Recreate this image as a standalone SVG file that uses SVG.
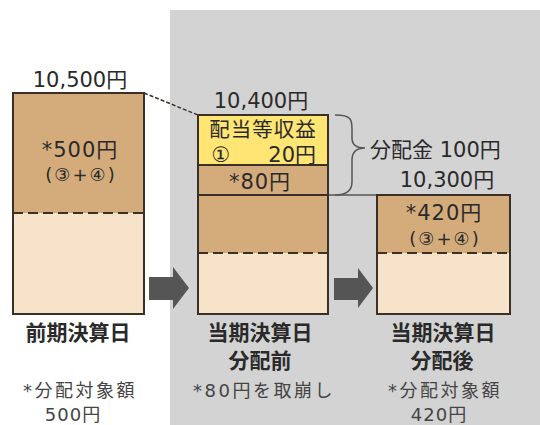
<svg xmlns="http://www.w3.org/2000/svg" width="540" height="425" viewBox="0 0 540 425">
<style>
text{font-family:"DejaVu Sans","Noto Sans CJK JP",sans-serif;fill:#2a2a2a;text-anchor:middle}
.n{font-size:21px}
.c{font-size:18px;letter-spacing:2px}
.b{font-family:"Noto Sans CJK JP",sans-serif;font-weight:bold;font-size:21px}
.s{font-size:18px;fill:#444;letter-spacing:2.5px}
.tan{fill:#D4AC7C}
.lt{fill:#F7E3C9}
.yl{fill:#FFE574}
.out{fill:none;stroke:#3b3028;stroke-width:2}
.sep{stroke:#3b3028;stroke-width:2}
.dash{stroke:#3b3028;stroke-width:2;stroke-dasharray:10 5;fill:none}
.arrow{fill:#555}
</style>
<rect x="170" y="10" width="370" height="415" fill="#D3D3D3"/>
<g id="connectors">
<line x1="144" y1="93" x2="198" y2="115" stroke="#3b3028" stroke-width="1.5" stroke-dasharray="4 2"/>
<line x1="328" y1="195" x2="377" y2="195" stroke="#555" stroke-width="1.3"/>
<path d="M335,115 C352,115 352,120 352,130 V138 C352,145 356,148 365,148 C356,148 352,152 352,160 V182 C352,192 345,195 335,195" fill="none" stroke="#555" stroke-width="1.5"/>
<path class="arrow" d="M149,277 H173 V267 L189,288 L173,309 V300 H149 Z"/>
<path class="arrow" d="M334,278 H358 V268 L373,288 L358,308 V300 H334 Z"/>
</g>
<g id="prev">
<rect class="tan" x="13" y="93" width="131" height="120"/>
<rect class="lt" x="13" y="213" width="131" height="101"/>
<line class="dash" x1="13" y1="213" x2="144" y2="213"/>
<rect class="out" x="13" y="93" width="131" height="221"/>
<text class="n" x="80" y="87">10,500円</text>
<text class="n" x="80" y="157" style="letter-spacing:1px">*500円</text>
<text class="c" x="81" y="181">(③+④)</text>
<text class="b" x="78" y="340">前期決算日</text>
<text class="s" x="80" y="397">*分配対象額</text>
<text class="s" x="73" y="421" style="letter-spacing:1px">500円</text>
</g>
<g id="before">
<rect class="yl" x="198" y="115" width="130" height="50"/>
<rect class="tan" x="198" y="165" width="130" height="88"/>
<rect class="lt" x="198" y="253" width="130" height="61"/>
<line class="sep" x1="198" y1="165" x2="328" y2="165"/>
<line class="sep" x1="198" y1="195" x2="328" y2="195"/>
<line class="dash" x1="198" y1="253" x2="328" y2="253"/>
<rect class="out" x="198" y="115" width="130" height="199"/>
<text class="n" x="261" y="108">10,400円</text>
<text x="263" y="137" style="font-size:20.5px;letter-spacing:1px">配当等収益</text>
<text class="n" x="221" y="162">①</text>
<text class="n" x="316" y="162" style="text-anchor:end">20円</text>
<text class="n" x="260" y="189" style="letter-spacing:1px">*80円</text>
<text class="b" x="260" y="340">当期決算日</text>
<text class="b" x="260" y="368">分配前</text>
<text class="s" x="264" y="397">*80円を取崩し</text>
</g>
<g id="after">
<rect class="tan" x="377" y="195" width="133" height="58"/>
<rect class="lt" x="377" y="253" width="133" height="61"/>
<line class="dash" x1="377" y1="253" x2="510" y2="253"/>
<rect class="out" x="377" y="195" width="133" height="119"/>
<text class="n" x="370" y="157" style="text-anchor:start">分配金 100円</text>
<text class="n" x="447" y="187">10,300円</text>
<text class="n" x="444" y="220" style="letter-spacing:1px">*420円</text>
<text class="c" x="445" y="245">(③+④)</text>
<text class="b" x="443" y="340">当期決算日</text>
<text class="b" x="442" y="368">分配後</text>
<text class="s" x="445" y="397">*分配対象額</text>
<text class="s" x="439" y="421" style="letter-spacing:1px">420円</text>
</g>
</svg>
